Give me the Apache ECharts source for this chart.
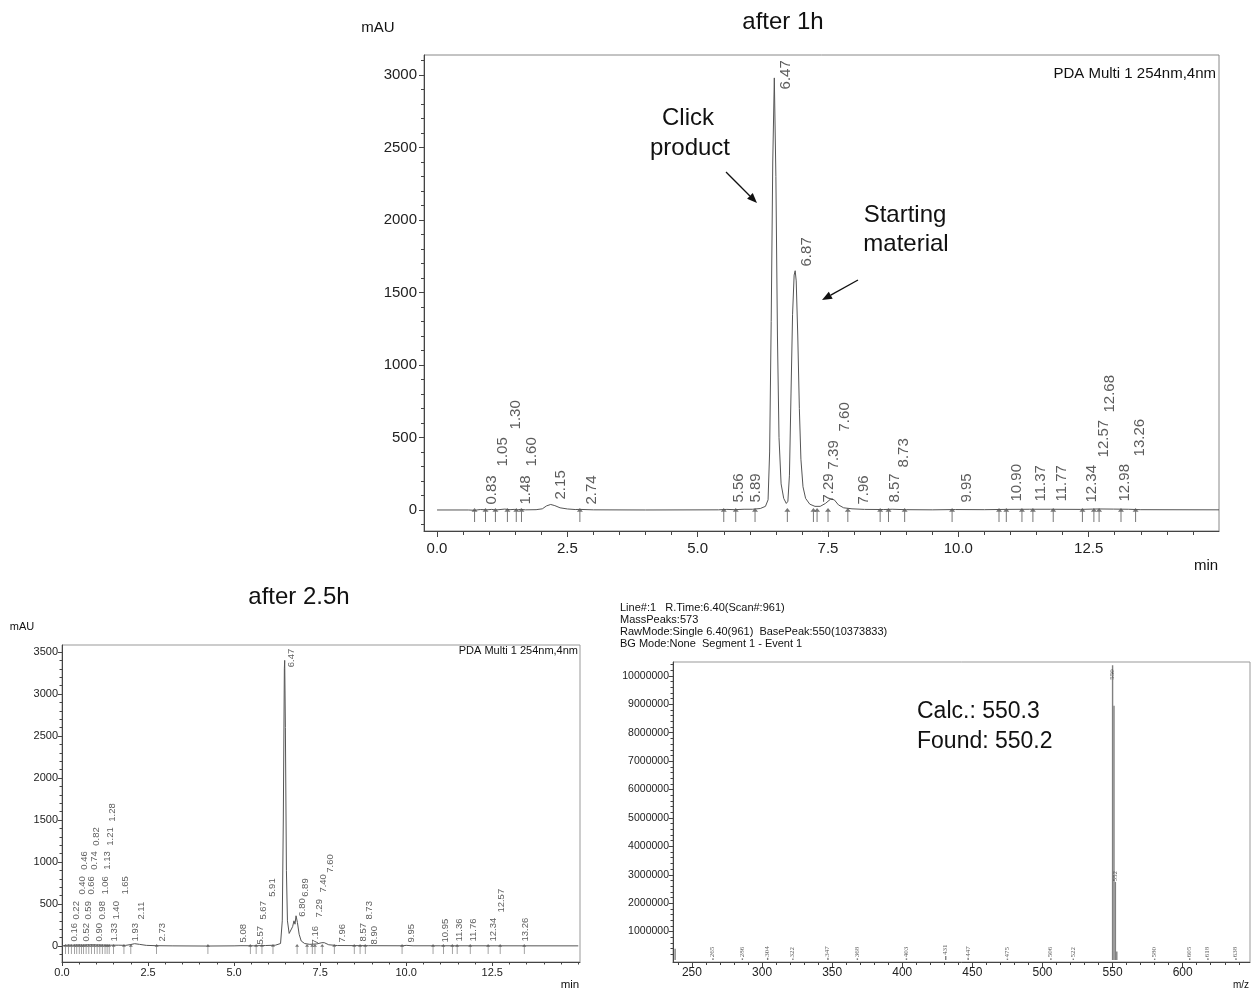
<!DOCTYPE html>
<html><head><meta charset="utf-8">
<script src="https://cdn.jsdelivr.net/npm/echarts@6/dist/echarts.min.js"></script>
<style>html,body{margin:0;padding:0;background:#fff}#c{width:1252px;height:989px}</style>
</head><body><div id="c"></div>
<script>
const FONT = '"Liberation Sans", Arial, sans-serif';

// ---------- after 1h chromatogram ----------
const topTrace = [[0.00,0],[0.60,0],[0.72,-2],[0.83,3],[0.95,1],[1.05,4],[1.12,0],[1.30,6],[1.40,2],[1.48,4],[1.55,1],[1.60,4],[1.70,1],[1.90,2],[2.02,8],[2.10,28],[2.18,38],[2.26,30],[2.36,15],[2.50,7],[2.65,3],[2.74,4],[3.00,1],[4.00,0],[5.40,1],[5.56,4],[5.70,2],[5.89,5],[6.05,5],[6.20,10],[6.30,25],[6.35,70],[6.38,400],[6.41,1300],[6.44,2400],[6.47,2980],[6.50,2300],[6.53,1200],[6.56,500],[6.60,180],[6.65,80],[6.70,45],[6.73,60],[6.76,240],[6.79,800],[6.82,1350],[6.85,1620],[6.87,1650],[6.89,1580],[6.92,1200],[6.95,700],[6.98,350],[7.02,160],[7.07,80],[7.15,40],[7.25,25],[7.35,25],[7.45,45],[7.55,75],[7.62,70],[7.70,35],[7.80,15],[7.96,8],[8.20,4],[8.57,3],[8.73,5],[9.00,2],[9.50,1],[9.95,3],[10.50,2],[10.90,4],[11.37,5],[11.77,5],[12.34,4],[12.57,6],[12.68,7],[12.98,6],[13.26,5],[13.50,2],[15.00,1]];
const topPeakTimes = [0.83,1.05,1.30,1.48,1.60,2.15,2.74,5.56,5.89,6.47,6.87,7.29,7.39,7.60,7.96,8.57,8.73,9.95,10.90,11.37,11.77,12.34,12.57,12.68,12.98,13.26];
const topPeakLabelBase = [34,297,552,34,297,69,34,48,48,2897,1676,48,276,538,34,48,290,48,55,55,55,48,359,669,55,366];
const topEventMarks = [0.72,0.93,1.12,1.35,1.52,1.62,2.74,5.50,5.73,6.10,6.72,7.22,7.29,7.50,7.88,8.50,8.66,8.97,9.88,10.78,10.92,11.22,11.43,11.82,12.38,12.60,12.70,13.12,13.40];
const topXTicks = [0, 2.5, 5, 7.5, 10, 12.5];
const topYTicks = [0, 500, 1000, 1500, 2000, 2500, 3000];

// ---------- after 2.5h chromatogram ----------
const botTrace = [[0.00,0],[0.10,8],[0.20,12],[0.30,10],[0.45,14],[0.60,12],[0.80,15],[1.00,14],[1.20,12],[1.40,10],[1.65,10],[1.85,8],[2.00,18],[2.11,28],[2.25,20],[2.45,8],[2.73,4],[3.20,2],[4.20,0],[5.00,2],[5.20,4],[5.57,3],[5.67,4],[5.91,6],[6.20,10],[6.35,30],[6.40,300],[6.43,1500],[6.46,3300],[6.47,3400],[6.49,2600],[6.52,900],[6.55,300],[6.60,150],[6.65,170],[6.70,230],[6.74,300],[6.77,260],[6.80,360],[6.84,280],[6.89,140],[6.95,60],[7.05,30],[7.20,20],[7.40,25],[7.55,40],[7.62,40],[7.75,15],[8.00,6],[8.90,4],[9.90,3],[10.00,8],[10.20,3],[11.00,3],[15.00,2]];
const botPeakTimes = [0.16,0.22,0.40,0.46,0.52,0.59,0.66,0.74,0.82,0.90,0.98,1.06,1.13,1.21,1.28,1.33,1.40,1.65,1.93,2.11,2.73,5.08,5.57,5.67,5.91,6.47,6.80,6.89,7.16,7.29,7.40,7.60,7.96,8.57,8.73,8.90,9.95,10.95,11.36,11.76,12.34,12.57,13.26];
const botPeakLabelBase = [48,309,606,903,48,309,606,903,1188,48,309,606,903,1188,1473,48,309,606,48,309,48,36,12,309,580,3313,344,580,12,333,630,866,36,48,309,12,36,36,48,48,48,392,48];
const botEventMarks = [0.10,0.19,0.27,0.36,0.43,0.50,0.57,0.63,0.70,0.78,0.86,0.94,1.02,1.10,1.17,1.25,1.31,1.37,1.50,1.80,2.00,2.75,4.24,5.47,5.64,5.81,6.13,6.83,7.12,7.27,7.35,7.56,7.91,8.49,8.66,8.81,9.88,10.78,11.08,11.34,11.48,11.86,12.38,12.73,13.43];
const botXTicks = [0, 2.5, 5, 7.5, 10, 12.5];
const botYTicks = [0, 500, 1000, 1500, 2000, 2500, 3000, 3500];

// ---------- mass spectrum ----------
const msMz = [238,265,286,304,322,347,368,403,431,447,475,506,522,550,551,552,553,580,605,618,638];
const msIntensity = [400000,60000,60000,80000,50000,80000,60000,60000,140000,80000,50000,60000,50000,10373833,8950000,2750000,300000,50000,60000,60000,60000];
const msLabelMz = [265,286,304,322,347,368,403,431,447,475,506,522,550,552,580,605,618,638];
const msLabelBase = [80000,80000,100000,70000,100000,80000,80000,160000,100000,70000,80000,70000,9850000,2750000,70000,80000,80000,80000];
const msXTicks = [250,300,350,400,450,500,550,600];
const msYTicks = [1000000,2000000,3000000,4000000,5000000,6000000,7000000,8000000,9000000,10000000];

function minors(min, max, step, majors) {
  const out = [];
  const n0 = Math.ceil(min / step), n1 = Math.floor(max / step);
  for (let n = n0; n <= n1; n++) {
    const v = Math.round(n * step * 1000) / 1000;
    if (!majors.some(m => Math.abs(m - v) < 1e-6)) out.push(v);
  }
  return out;
}

const AX = '#444';
function mainAxis(dim, grid, min, max, ticks, fs, fmt, margin, tickLen) {
  return {
    type: 'value', gridIndex: grid, min: min, max: max,
    position: dim === 'x' ? 'bottom' : 'left',
    axisLine: {show: true, onZero: false, lineStyle: {color: AX, width: 1}},
    axisTick: {show: true, customValues: ticks, length: tickLen, lineStyle: {color: AX}},
    axisLabel: {show: true, customValues: ticks, formatter: fmt, fontSize: fs, color: '#222', fontFamily: FONT, margin: margin},
    splitLine: {show: false}, minorTick: {show: false}
  };
}
function minorAxis(dim, grid, min, max, vals, len) {
  return {
    type: 'value', gridIndex: grid, min: min, max: max,
    position: dim === 'x' ? 'bottom' : 'left',
    axisLine: {show: false, onZero: false},
    axisTick: {show: true, customValues: vals, length: len, lineStyle: {color: AX}},
    axisLabel: {show: false}, splitLine: {show: false}
  };
}

const T = {xmin: -0.25, xmax: 15, ymin: -145, ymax: 3138};
const B = {xmin: 0, xmax: 15.05, ymin: -190, ymax: 3583};
const M = {xmin: 236.5, xmax: 648, ymin: -70000, ymax: 10490000};

const xAxis = [
  mainAxis('x', 0, T.xmin, T.xmax, topXTicks, 15, v => v.toFixed(1), 10, 6),
  minorAxis('x', 0, T.xmin, T.xmax, minors(0, 14.5, 0.5, topXTicks), 4),
  mainAxis('x', 1, B.xmin, B.xmax, botXTicks, 11, v => v.toFixed(1), 5, 4),
  minorAxis('x', 1, B.xmin, B.xmax, minors(0, 15, 0.5, botXTicks), 2.5),
  mainAxis('x', 2, M.xmin, M.xmax, msXTicks, 12, v => String(v), 5, 5),
  minorAxis('x', 2, M.xmin, M.xmax, minors(240, 640, 10, msXTicks), 3)
];
const yAxis = [
  mainAxis('y', 0, T.ymin, T.ymax, topYTicks, 15, v => String(v), 7, 5),
  minorAxis('y', 0, T.ymin, T.ymax, minors(-100, 3100, 100, topYTicks), 3),
  mainAxis('y', 1, B.ymin, B.ymax, botYTicks, 11, v => String(v), 4, 4),
  minorAxis('y', 1, B.ymin, B.ymax, minors(-100, 3500, 100, botYTicks), 2.5),
  mainAxis('y', 2, M.ymin, M.ymax, msYTicks, 10.5, v => String(v), 4, 4),
  minorAxis('y', 2, M.ymin, M.ymax, minors(0, 10400000, 200000, msYTicks.concat([0])), 2.5)
];

const arrowPath = 'path://M3,0 L6,5 L3.5,5 L3.5,18 L2.5,18 L2.5,5 L0,5 Z';

function labelSeries(xi, yi, times, bases, fs, dx, fmt, fam) {
  return {
    type: 'scatter', xAxisIndex: xi, yAxisIndex: yi, silent: true,
    symbolSize: 1, itemStyle: {color: 'rgba(0,0,0,0)'},
    data: times.map((t, i) => [t, bases[i]]),
    label: {show: true, rotate: 90, position: [dx, 0], align: 'left', verticalAlign: 'middle',
      fontSize: fs, color: '#333', fontFamily: fam || FONT, formatter: p => fmt(p.value[0])},
    z: 5
  };
}
function markSeries(xi, yi, times, size) {
  return {
    type: 'scatter', xAxisIndex: xi, yAxisIndex: yi, silent: true,
    symbol: arrowPath, symbolSize: size, symbolOffset: [0, size[1] / 2 - 2],
    itemStyle: {color: '#555'}, data: times.map(t => [t, 0]), z: 4
  };
}

const series = [
  {type: 'line', xAxisIndex: 0, yAxisIndex: 0, data: topTrace, showSymbol: false, silent: true,
    lineStyle: {color: '#555', width: 1}, z: 3},
  markSeries(0, 0, topEventMarks, [6, 14]),
  labelSeries(0, 0, topPeakTimes, topPeakLabelBase, 15, 12, v => v.toFixed(2)),
  {type: 'line', xAxisIndex: 2, yAxisIndex: 2, data: botTrace, showSymbol: false, silent: true,
    lineStyle: {color: '#555', width: 1}, z: 3},
  markSeries(2, 2, botEventMarks, [4, 10]),
  labelSeries(2, 2, botPeakTimes, botPeakLabelBase, 9.5, 7, v => v.toFixed(2)),
  {type: 'bar', xAxisIndex: 4, yAxisIndex: 4, silent: true, barWidth: 1.4,
    data: msMz.map((m, i) => [m, msIntensity[i]]), itemStyle: {color: '#808080'}},
  labelSeries(4, 4, msLabelMz, msLabelBase, 7, 0, v => String(Math.round(v)), '"Liberation Serif", serif')
];

function txt(x, y, s, size, align, fam) {
  return {type: 'text', silent: true, z: 100,
    style: {x: x, y: y, text: s, font: size + 'px ' + (fam || FONT), fill: '#111',
      textAlign: align || 'center', textVerticalAlign: 'middle', align: align || 'center', verticalAlign: 'middle'}};
}
function arrow(x1, y1, x2, y2) {
  const dx = x2 - x1, dy = y2 - y1, L = Math.hypot(dx, dy), ux = dx / L, uy = dy / L;
  const bx = x2 - 10 * ux, by = y2 - 10 * uy, px = -uy * 4, py = ux * 4;
  return [
    {type: 'line', silent: true, z: 100, shape: {x1: x1, y1: y1, x2: bx, y2: by}, style: {stroke: '#111', lineWidth: 1.3}},
    {type: 'polygon', silent: true, z: 100, shape: {points: [[x2, y2], [bx + px, by + py], [bx - px, by - py]]}, style: {fill: '#111'}}
  ];
}

const graphic = [
  txt(783, 22, 'after 1h', 24),
  txt(378, 28, 'mAU', 15),
  txt(1216, 74, 'PDA Multi 1 254nm,4nm', 15, 'right'),
  txt(1206, 566, 'min', 15),
  txt(688, 118, 'Click', 24),
  txt(690, 148, 'product', 24),
  txt(905, 215, 'Starting', 24),
  txt(906, 244, 'material', 24),
  txt(299, 597, 'after 2.5h', 24),
  txt(22, 627, 'mAU', 11),
  txt(578, 651, 'PDA Multi 1 254nm,4nm', 11, 'right'),
  txt(570, 985, 'min', 11.5),
  txt(620, 608, 'Line#:1   R.Time:6.40(Scan#:961)', 11, 'left'),
  txt(620, 620, 'MassPeaks:573', 11, 'left'),
  txt(620, 632, 'RawMode:Single 6.40(961)  BasePeak:550(10373833)', 11, 'left'),
  txt(620, 644, 'BG Mode:None  Segment 1 - Event 1', 11, 'left'),
  txt(917, 712, 'Calc.: 550.3', 23, 'left'),
  txt(917, 742, 'Found: 550.2', 23, 'left'),
  txt(1241, 985, 'm/z', 10)
].concat(arrow(726, 172, 757, 203), arrow(858, 280, 822, 300));

const chart = echarts.init(document.getElementById('c'), null, {renderer: 'canvas'});
chart.setOption({
  animation: false,
  backgroundColor: '#fff',
  grid: [
    {left: 424, top: 55, width: 795, height: 476, show: true, borderColor: '#888', borderWidth: 1, backgroundColor: 'rgba(0,0,0,0)', outerBoundsMode: 'none', containLabel: false},
    {left: 62, top: 645, width: 518, height: 317, show: true, borderColor: '#999', borderWidth: 1, backgroundColor: 'rgba(0,0,0,0)', outerBoundsMode: 'none', containLabel: false},
    {left: 673, top: 662, width: 577, height: 300, show: true, borderColor: '#999', borderWidth: 1, backgroundColor: 'rgba(0,0,0,0)', outerBoundsMode: 'none', containLabel: false}
  ],
  xAxis: xAxis, yAxis: yAxis, series: series, graphic: graphic
});
</script></body></html>
